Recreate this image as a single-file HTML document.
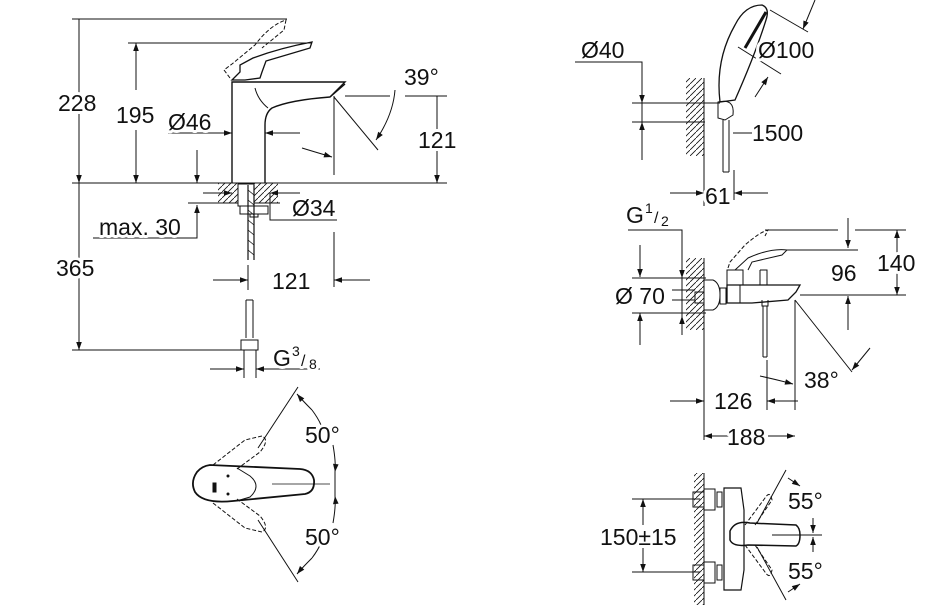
<!DOCTYPE html>
<html><head><meta charset="utf-8"><style>
body{margin:0;background:#fff}
svg{display:block}
text{font-family:"Liberation Sans",sans-serif;font-size:23px;fill:#111;paint-order:stroke;stroke:#fff;stroke-width:6px;stroke-linejoin:round}
</style></head><body>
<svg width="939" height="605" viewBox="0 0 939 605" xmlns="http://www.w3.org/2000/svg">
<defs>
<marker id="a" viewBox="0 0 10 10" refX="10" refY="5" markerWidth="10" markerHeight="8" markerUnits="userSpaceOnUse" orient="auto"><path d="M0,1.5L10,5L0,8.5z" fill="#111"/></marker>
<pattern id="h" width="6" height="6" patternUnits="userSpaceOnUse"><path d="M-1,7L7,-1" stroke="#111" stroke-width="0.8"/></pattern>
</defs>
<g stroke="#111" stroke-width="1" fill="none">
<path d="M72 19H287M128 43H312M72 183H447M72 350H245"/>
<path d="M79 60V19M79 150V183" marker-end="url(#a)"/>
<path d="M79 60V150M79 220V310" />
<path d="M79 220V183M79 310V350" marker-end="url(#a)"/>
<path d="M136 43V90M136 130V183" />
<path d="M136 90V43" marker-end="url(#a)"/>
<path d="M136 130V183" marker-end="url(#a)"/>
<path d="M232 183V82H345L330 97Q290 100 272 108Q265 113 265 125V183" stroke-width="1.4"/>
<path d="M330 97L345 84" stroke-width="1.4"/>
<path d="M255 88Q258 100 268 108"/>
<path d="M232 80L240 72L240 65L253 58Q280 48 312 42L310 48L266 61L262 72L260 78L245 80Z" stroke-width="1.3"/>
<path d="M230 78L224 70L232 64L255 45Q270 25 286 20L284 30L262 48" stroke-dasharray="4 2"/>
<path d="M168 133H232" marker-end="url(#a)"/>
<path d="M300 133H265" marker-end="url(#a)"/>
<path d="M345 96H390M405 96H447M334 96V175M437 96V183"/>
<path d="M437 125V96M437 155V183" marker-end="url(#a)"/>
<path d="M334 97L378 150"/>
<path d="M395 90Q393 115 376 140" marker-end="url(#a)"/>
<path d="M302 148Q315 152 332 157" marker-end="url(#a)"/>
<rect x="218" y="183" width="60" height="20" fill="url(#h)" stroke="none"/>
<path d="M188 203H280"/>
<rect x="238" y="184" width="16" height="22" fill="#fff"/>
<path d="M240 206H268V214H240Z"/>
<path d="M250 214V217H258V214"/>
<path d="M248 185V260M254 185V260" stroke-width="1.2"/>
<path d="M248 190L254 195M248 200L254 205M248 210L254 215M248 220L254 225M248 230L254 235M248 240L254 245M248 250L254 255" stroke-width="0.8"/>
<path d="M203 193H232" marker-end="url(#a)"/>
<path d="M278 193H300" />
<path d="M300 193H270" marker-end="url(#a)"/>
<path d="M270 193V220H337"/>
<path d="M93 238H197V205"/>
<path d="M197 238V205" marker-end="url(#a)"/>
<path d="M197 150V183" marker-end="url(#a)"/>
<path d="M246 300V338M253 300V338M246 300H253"/>
<path d="M241 340H258V350H241Z"/>
<path d="M244 350V378M256 350V378"/>
<path d="M213 280H248" marker-end="url(#a)"/>
<path d="M370 280H334" marker-end="url(#a)"/>
<path d="M248 265V290M334 232V287"/>
<path d="M210 369H244" marker-end="url(#a)"/>
<path d="M272 369H256" marker-end="url(#a)"/>
<path d="M272 369H320"/>

<path d="M197 472Q202 466 210 465L300 469Q312 470 314 480Q315 492 305 494L233 501Q203 504 195 492Q190 482 197 472Z" stroke-width="1.8"/>
<path d="M237 468L250 476Q262 486 250 497L240 500"/>
<path d="M272 484H330" stroke-width="0.8"/>
<rect x="213" y="483" width="3" height="9" fill="#111"/>
<circle cx="228" cy="476" r="1" fill="#111"/><circle cx="228" cy="494" r="1" fill="#111"/>
<path d="M213 465L245 440L262 436Q270 440 260 452L237 469" stroke-dasharray="4 2"/>
<path d="M213 503L245 528L262 532Q270 528 260 516L237 499" stroke-dasharray="4 2"/>
<path d="M258 448L298 387M258 520L298 582"/>
<path d="M312 410Q302 400 297 394" marker-end="url(#a)"/>
<path d="M312 410Q318 418 321 425"/>
<path d="M333 445Q336 462 335 472" marker-end="url(#a)"/>
<path d="M333 523Q336 506 335 496" marker-end="url(#a)"/>
<path d="M312 558Q302 568 297 574" marker-end="url(#a)"/>
<path d="M312 558Q318 550 321 543"/>
<path d="M335 472V496"/>

<path d="M575 62H642V160"/>
<path d="M642 80V103" marker-end="url(#a)"/>
<path d="M642 145V122" marker-end="url(#a)"/>
<path d="M632 103H720M632 122H705"/>
<rect x="686" y="78" width="18" height="78" fill="url(#h)" stroke="none"/>
<path d="M704 78V206"/>
<path d="M720 102Q715 60 735 25Q745 5 762 5Q770 8 766 20Q755 55 735 100Z" stroke-width="1.3"/>
<path d="M745 48L766 12" stroke-width="3"/>
<path d="M718 102Q735 98 733 115L725 120L718 118Z"/>
<path d="M723 120V172M729 120V172M723 172H729"/>
<path d="M733 133H752"/>
<path d="M770 10L808 32M738 47L781 74"/>
<path d="M815 0L803 29" marker-end="url(#a)"/>
<path d="M755 97L768 77" marker-end="url(#a)"/>
<path d="M670 193H704" marker-end="url(#a)"/>
<path d="M768 193H734" marker-end="url(#a)"/>
<path d="M734 170V200"/>

<path d="M628 230H682V335"/>
<path d="M682 262V278" marker-end="url(#a)"/>
<path d="M682 332V316" marker-end="url(#a)"/>
<path d="M640 245V277" marker-end="url(#a)"/>
<path d="M640 345V313" marker-end="url(#a)"/>
<path d="M632 278H706M632 313H706M672 290H695M672 300H695"/>
<rect x="686" y="258" width="18" height="72" fill="url(#h)" stroke="none"/>
<path d="M704 258V440"/>
<path d="M704 280H713Q720 283 720 295Q720 307 713 310H704Z"/>
<path d="M695 292H704V303H695Z"/>
<path d="M720 288H726V304H720Z"/>
<path d="M727 285H800L796 292L788 300L752 303H727Z" stroke-width="1.3"/>
<path d="M740 285V303"/>
<path d="M727 285V270H743V285"/>
<path d="M760 270H767V285M760 270V285"/>
<path d="M735 270L748 258Q770 248 787 250L782 255L752 262L748 270"/>
<path d="M728 268L730 262L745 245Q760 232 768 230L765 236" stroke-dasharray="4 2"/>
<path d="M762 300V306H768V300M763 306V357M767 306V357M763 357H767"/>
<path d="M765 230H838M855 230H906M787 250H858M800 295H906"/>
<path d="M848 218V248" marker-end="url(#a)"/>
<path d="M848 330V296" marker-end="url(#a)"/>
<path d="M897 230V295"/>
<path d="M897 245V230" marker-end="url(#a)"/>
<path d="M897 280V295" marker-end="url(#a)"/>
<path d="M795 300L852 372M795 300V410M767 360V410"/>
<path d="M870 348L852 370" marker-end="url(#a)"/>
<path d="M760 376Q778 380 793 384" marker-end="url(#a)"/>
<path d="M670 401H704" marker-end="url(#a)"/>
<path d="M798 401H767" marker-end="url(#a)"/>
<path d="M730 436H704" marker-end="url(#a)"/>
<path d="M768 436H795" marker-end="url(#a)"/>

<rect x="694" y="473" width="10" height="132" fill="url(#h)" stroke="none"/>
<path d="M704 473V605"/>
<path d="M632 499H700M632 572H700"/>
<path d="M643 525V499" marker-end="url(#a)"/>
<path d="M643 548V572" marker-end="url(#a)"/>
<path d="M693 492H704V507H693ZM693 565H704V580H693Z"/>
<path d="M704 489H715V510H704ZM704 562H715V583H704Z"/>
<path d="M717 492H722V507H717ZM717 565H722V580H717Z"/>
<path d="M724 488H741L744 510V570L741 590H724Z" stroke-width="1.2"/>
<path d="M730 531Q735 520 750 523L796 525Q800 528 800 535Q800 544 796 546L748 545Q733 547 730 540Z" stroke-width="1.5"/>
<path d="M745 525L765 498Q770 490 772 500L755 525" stroke-dasharray="4 2"/>
<path d="M745 545L765 572Q770 580 772 570L755 545" stroke-dasharray="4 2"/>
<path d="M757 523L786 470M757 547L786 600M772 535H822"/>
<path d="M788 478L800 486" marker-end="url(#a)"/>
<path d="M788 592L800 584" marker-end="url(#a)"/>
<path d="M813 518V533" marker-end="url(#a)"/>
<path d="M813 552V537" marker-end="url(#a)"/>
</g>
<text x="58" y="111">228</text>
<text x="116" y="123">195</text>
<text x="168" y="130">Ø46</text>
<text x="404" y="85">39°</text>
<text x="418" y="148">121</text>
<text x="292" y="216">Ø34</text>
<text x="99" y="235">max. 30</text>
<text x="56" y="276">365</text>
<text x="272" y="289">121</text>
<text x="273" y="366">G</text><text x="292" y="356" style="font-size:14px">3</text><text x="301" y="366" style="font-size:16px">/</text><text x="309" y="369" style="font-size:14px">8</text>
<text x="305" y="443">50°</text>
<text x="305" y="545">50°</text>
<text x="581" y="58">Ø40</text>
<text x="758" y="58">Ø100</text>
<text x="752" y="141">1500</text>
<text x="705" y="204">61</text>
<text x="626" y="223">G</text><text x="645" y="213" style="font-size:14px">1</text><text x="654" y="223" style="font-size:16px">/</text><text x="661" y="226" style="font-size:14px">2</text>
<text x="615" y="304">Ø 70</text>
<text x="831" y="281">96</text>
<text x="877" y="271">140</text>
<text x="804" y="388">38°</text>
<text x="714" y="409">126</text>
<text x="727" y="445">188</text>
<text x="600" y="545">150±15</text>
<text x="788" y="509">55°</text>
<text x="788" y="579">55°</text>
</svg>
</body></html>
